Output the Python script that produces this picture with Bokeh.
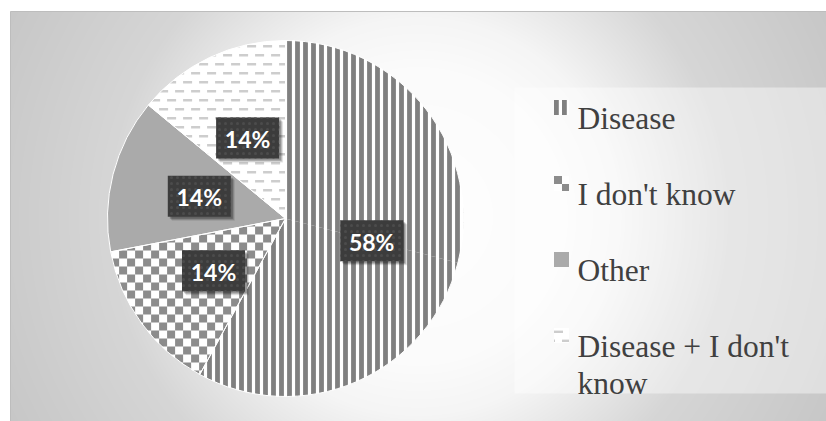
import textwrap
import numpy as np
from bokeh.plotting import figure
from bokeh.models import Range1d, ColumnDataSource
from bokeh.embed import file_html
from bokeh.resources import INLINE
from bokeh.core.properties import value

# ---------------- data ----------------
categories = ["Disease", "I don't know", "Other", "Disease + I don't know"]
shares = [58, 14, 14, 14]
patterns = ["stripes", "checker", "solid", "dashes"]
solid_colors = ["white", "white", "#aaaaaa", "white"]

# ---------------- layout (pixel-like data units: x = image x, y = -image y) ----------------
W, H = 826, 421
CX, CY, R = 285.0, -218.0, 178.0

p = figure(width=W, height=H, x_range=Range1d(0, W), y_range=Range1d(-H, 0),
           output_backend="svg", toolbar_location=None, min_border=0,
           x_axis_type=None, y_axis_type=None)
p.grid.visible = False
p.outline_line_color = None
p.background_fill_color = "white"
p.border_fill_color = "white"

# ---------------- background gradient ----------------
fx0, fy0, fx1, fy1 = 10, 11, 826, 421
gw, gh = fx1 - fx0, fy1 - fy0
gx = np.arange(gw) + fx0 + 0.5
gy = fy1 - 0.5 - np.arange(gh)
GX, GY = np.meshgrid(gx, gy)
dist = np.hypot(GX - 418, GY - 216)
g = np.interp(dist, [0, 150, 200, 310, 460, 700], [255, 251, 245, 214, 199, 192]).astype(np.uint8)
img = np.empty((gh, gw), dtype=np.uint32)
view = img.view(dtype=np.uint8).reshape((gh, gw, 4))
view[..., 0] = g
view[..., 1] = g
view[..., 2] = g
view[..., 3] = 255
p.image_rgba(image=[img], x=fx0, y=-fy1, dw=gw, dh=gh)
p.quad(left=fx0, right=fx1 + 5, top=-fy0, bottom=-fy1 - 5, fill_color=None,
       line_color="#bdbdbd", line_width=1)

# legend panel
p.quad(left=514, right=830, top=-87, bottom=-393, fill_color="white", fill_alpha=0.42,
       line_color=None)

# ---------------- geometry helpers ----------------
def clip_poly(subject, clipper):
    area = 0.0
    n = len(clipper)
    for i in range(n):
        a, b = clipper[i], clipper[(i + 1) % n]
        area += a[0] * b[1] - b[0] * a[1]
    sgn = 1.0 if area > 0 else -1.0
    out = list(subject)
    for i in range(n):
        a, b = clipper[i], clipper[(i + 1) % n]
        if abs(a[0] - b[0]) < 1e-9 and abs(a[1] - b[1]) < 1e-9:
            continue
        inp, out = out, []
        if not inp:
            break

        def inside(pt):
            return sgn * ((b[0] - a[0]) * (pt[1] - a[1]) - (b[1] - a[1]) * (pt[0] - a[0])) >= -1e-9

        def inter(p1, p2):
            x1, y1 = p1
            x2, y2 = p2
            x3, y3 = a
            x4, y4 = b
            den = (x1 - x2) * (y3 - y4) - (y1 - y2) * (x3 - x4)
            if abs(den) < 1e-12:
                return p2
            t = ((x1 - x3) * (y3 - y4) - (y1 - y3) * (x3 - x4)) / den
            return (x1 + t * (x2 - x1), y1 + t * (y2 - y1))

        s = inp[-1]
        for e in inp:
            if inside(e):
                if not inside(s):
                    out.append(inter(s, e))
                out.append(e)
            elif inside(s):
                out.append(inter(s, e))
            s = e
    return out


def sector_pieces(a0, a1, max_span=np.pi):
    """split a clockwise span a0 -> a1 (a0 > a1) into convex sector polygons"""
    pieces = []
    total = a0 - a1
    k = int(np.ceil(total / max_span - 1e-9))
    edges = np.linspace(a0, a1, k + 1)
    for s, e in zip(edges[:-1], edges[1:]):
        ts = np.linspace(s, e, max(8, int((s - e) / np.pi * 180)))
        poly = [(CX, CY)] + [(CX + R * np.cos(t), CY + R * np.sin(t)) for t in ts]
        pieces.append(poly)
    return pieces


def rect(x0, y0, x1, y1):
    return [(x0, y0), (x1, y0), (x1, y1), (x0, y1)]


def pattern_cells(kind, bx0, by0, bx1, by1, ox, oy):
    cells = []
    if kind == "stripes":
        period, wid = 8.0, 4.8
        k0 = int(np.floor((bx0 - ox) / period)) - 1
        k1 = int(np.ceil((bx1 - ox) / period)) + 1
        for k in range(k0, k1 + 1):
            x0 = ox + k * period
            cells.append(rect(x0, by0 - 1, x0 + wid, by1 + 1))
    elif kind == "checker":
        c = 8.0
        i0, i1 = int(np.floor((bx0 - ox) / c)) - 1, int(np.ceil((bx1 - ox) / c)) + 1
        j0, j1 = int(np.floor((by0 - oy) / c)) - 1, int(np.ceil((by1 - oy) / c)) + 1
        for i in range(i0, i1 + 1):
            for j in range(j0, j1 + 1):
                if (i + j) % 2 == 0:
                    x0, y0 = ox + i * c, oy + j * c
                    cells.append(rect(x0, y0, x0 + c, y0 + c))
    elif kind == "dashes":
        px, py, dl, dh = 16.0, 9.0, 9.0, 2.4
        j0, j1 = int(np.floor((by0 - oy) / py)) - 1, int(np.ceil((by1 - oy) / py)) + 1
        for j in range(j0, j1 + 1):
            off = (j % 2) * px / 2
            i0 = int(np.floor((bx0 - ox - off) / px)) - 1
            i1 = int(np.ceil((bx1 - ox - off) / px)) + 1
            for i in range(i0, i1 + 1):
                x0 = ox + off + i * px
                y0 = oy + j * py
                cells.append(rect(x0, y0, x0 + dl, y0 + dh))
    return cells


pattern_color = {"stripes": "#808080", "checker": "#8c8c8c", "dashes": "#cdcdcd"}


def fill_pattern(kind, clippers, ox, oy):
    xs, ys = [], []
    for cl in clippers:
        arr = np.array(cl)
        bx0, by0 = arr.min(axis=0)
        bx1, by1 = arr.max(axis=0)
        for cell in pattern_cells(kind, bx0, by0, bx1, by1, ox, oy):
            cx = [q[0] for q in cell]
            cy = [q[1] for q in cell]
            if max(cx) < bx0 or min(cx) > bx1 or max(cy) < by0 or min(cy) > by1:
                continue
            res = clip_poly(cell, cl)
            if len(res) >= 3:
                xs.append([q[0] for q in res])
                ys.append([q[1] for q in res])
    if xs:
        p.patches(xs=xs, ys=ys, fill_color=pattern_color[kind], line_color=None)


# ---------------- pie ----------------
total = float(sum(shares))
fr = np.array(shares) / total
cum = np.concatenate([[0.0], np.cumsum(fr)])
starts = np.pi / 2 - 2 * np.pi * cum[:-1]
ends = np.pi / 2 - 2 * np.pi * cum[1:]

src = ColumnDataSource(dict(start=starts, end=ends, color=solid_colors))
p.wedge(x=CX, y=CY, radius=R, start_angle="start", end_angle="end", direction="clock",
        fill_color="color", line_color=None, source=src)

for k in range(len(shares)):
    if patterns[k] != "solid":
        fill_pattern(patterns[k], sector_pieces(starts[k], ends[k]), CX + 1.6, CY)

p.wedge(x=CX, y=CY, radius=R, start_angle="start", end_angle="end", direction="clock",
        fill_color=None, line_color="white", line_width=1, source=src)

# ---------------- data labels ----------------
mid = (starts + ends) / 2
lx = CX + 0.5 * R * np.cos(mid)
ly = CY + 0.5 * R * np.sin(mid)
labels = [f"{round(v / total * 100)}%" for v in shares]
bw, bh = 63, 41
for off, al in [(4, 0.10), (3, 0.16), (2, 0.22)]:
    p.rect(x=lx + off, y=ly - off, width=bw, height=bh, fill_color="black", fill_alpha=al,
           line_color=None)
p.rect(x=lx, y=ly, width=bw, height=bh, fill_color="#3c3c3c", line_color=None,
       hatch_pattern=".", hatch_color="#4c4c4c", hatch_scale=6, hatch_weight=1.5)
p.text(x=lx, y=ly - 1, text=labels, text_color="white", text_font=value("Lato"),
       text_font_style="bold", text_font_size="23px", text_align="center",
       text_baseline="middle")

# ---------------- legend ----------------
mk_x0, mk_size = 553.5, 15.0
first_y, step = 107.0, 76.0
for k, cat in enumerate(categories):
    cyi = first_y + k * step
    y_top, y_bot = -(cyi - mk_size / 2), -(cyi + mk_size / 2)
    sq = rect(mk_x0, y_bot, mk_x0 + mk_size, y_top)
    p.quad(left=mk_x0, right=mk_x0 + mk_size, top=y_top, bottom=y_bot,
           fill_color=solid_colors[k], line_color=None)
    if patterns[k] != "solid":
        fill_pattern(patterns[k], [sq], mk_x0, y_top - 8.0 if patterns[k] == "checker" else y_top - 5.0)
    lines = textwrap.wrap(cat, 17)
    for j, ln in enumerate(lines):
        p.text(x=[577], y=[-(cyi + 10.5 + j * 37)], text=[ln], text_color="#404040",
               text_font=value("Liberation Serif"), text_font_size="31.5px",
               text_align="left", text_baseline="alphabetic")

open("out.html", "w").write(file_html(p, INLINE))
